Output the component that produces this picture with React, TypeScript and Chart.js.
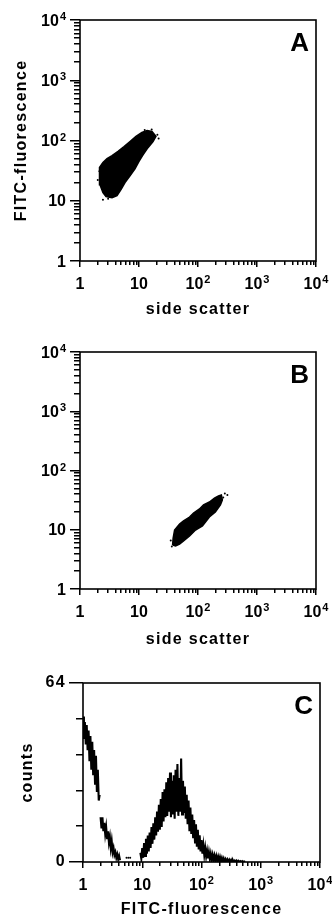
import React, { useEffect, useRef } from 'react';
import { Chart, registerables } from 'chart.js';

Chart.register(...registerables);

// ---------- DATA ----------
// Panel A: outline of the cell cloud (side scatter vs FITC-fluorescence)
const aOutlineX = [2.18, 2.10, 2.18, 2.45, 2.87, 3.49, 4.41, 5.57, 7.04, 8.89, 11.2, 13.7, 16.6, 19.4, 17.3, 14.2, 11.7, 10.0, 8.55, 7.04, 5.79, 4.95, 4.24, 3.49, 2.76, 2.45];
const aOutlineY = [18.5, 27, 35.5, 43, 50, 56, 66, 79, 96, 117, 136, 147, 141, 117, 96, 76, 58, 45, 34, 26, 20, 15.3, 12.1, 11.2, 11.7, 13.6];
// Panel A: stray events around the cloud
const aDotsX = [2.13, 2.45, 2.0, 3.0, 20.5, 16.4, 12.5, 21.5];
const aDotsY = [31, 10.4, 22, 10.8, 125, 152, 150, 108];

// Panel B: outline of the cell cloud
const bOutlineX = [37.1, 37.9, 40.1, 48.7, 56.9, 71.9, 84.0, 106, 124, 156, 190, 222, 249, 259, 240, 197, 156, 119, 90.8, 71.9, 56.9, 48.7, 41.7];
const bOutlineY = [5.53, 7.26, 9.9, 12.5, 14.1, 16.4, 19.2, 22.4, 26.2, 29.4, 34.3, 37.1, 38.6, 31.8, 26.2, 19.9, 16.4, 11.6, 9.9, 7.85, 6.46, 5.75, 5.32];
const bDotsX = [315, 285, 36, 268, 34.5];
const bDotsY = [38.6, 41, 5.2, 35, 6.6];

// Panel C: histogram, counts per channel (64 channels per decade, channel 0 = 1)
const CHANNELS_PER_DECADE = 64;
const histStart1 = 0;
const histCounts1 = [52, 44, 50, 42, 49, 40, 47, 36, 45, 33, 43, 31, 40, 28, 38, 25, 33, 22, 24];
const histStart2 = 19;
const histCounts2 = [16, 12, 16, 11, 14, 10, 12.5, 8.5, 11, 7, 9, 5, 7.5, 3.5, 5, 2.5, 3.5, 1.5, 2.7, 1, 2.2, 0.6];
const histDotChannels = [47, 49, 51];
const histDotCounts = [1.5, 1.5, 1.5];
const histStart3 = 62;
const histCounts3 = [
  3.3, 1.2, 5, 1.5, 6.8, 2.2, 8.3, 3, 9.5, 3.8, 10.5, 5, 12.5, 6.5, 13.8, 8, 16, 9.5, 18, 10.8,
  20.5, 11.5, 22.5, 12.5, 25, 14.5, 26, 16, 28.5, 16.5, 30, 18, 32, 16, 29, 17, 31, 15.5, 33, 18,
  35, 16.5, 30, 18, 37, 17, 29, 17.5, 27, 15.5, 24, 13.5, 22, 11, 19.5, 10, 17, 8.5, 15, 7,
  13.5, 5.5, 11.5, 4.5, 9.5, 3.8, 7.8, 3, 6, 2.5, 5, 2, 4, 1.3, 3.5, 1.1, 3, 0.9, 2.6, 0.7,
  2.3, 0.6, 2.1, 0.5, 1.9, 0.4, 1.8, 0.4, 1.5, 0.3, 1.3, 0.2, 1, 0.1, 0.9, 0.1, 0.8, 0, 0.7, 0,
  0.6, 0, 0.5, 0, 0.5, 0, 0.4, 0, 0.3, 0, 0.3, 0, 0.2, 0,
];

// Tick labels
const decadeValues = [1, 10, 100, 1000, 10000];
const decadeBases = ['1', '10', '10', '10', '10'];
const decadeExponents = ['', '', '2', '3', '4'];
const minorMultipliers = [1, 2, 3, 4, 5, 6, 7, 8, 9];
const countTickValues = [0, 12.8, 25.6, 38.4, 51.2, 64];
const countTickLabels = ['0', '', '', '', '', '64'];

// ---------- HELPERS ----------
const FONT = '"Liberation Sans", Arial, Helvetica, sans-serif';
const TITLE_SPACING = '1.3px';
const logTicks = decadeValues.slice(0, 4).flatMap((d) => minorMultipliers.map((m) => m * d)).concat([10000]);

const isDecade = (v: number) => decadeValues.some((d) => Math.abs(d - v) < d * 1e-9);
const countIndex = (v: number) => countTickValues.findIndex((c) => Math.abs(c - v) < 1e-6);
const zip = (xs: number[], ys: number[], close = false) => {
  const pts = xs.map((x, i) => ({ x, y: ys[i] }));
  if (close) pts.push({ x: xs[0], y: ys[0] });
  return pts;
};
const channelSeries = (start: number, counts: number[]) => counts.map((y, i) => ({ x: start + i, y }));

const tickFont = { family: FONT, size: 16, weight: 'bold' as const };
const titleFont = { family: FONT, size: 16, weight: 'bold' as const };

function logAxis(position: 'bottom' | 'left', size: number, tl: number, minorDash: number[], title: any) {
  const horizontal = position === 'bottom';
  return {
    type: 'logarithmic',
    position,
    min: 1,
    max: 10000,
    afterBuildTicks: (s: any) => {
      s.ticks = logTicks.map((v) => ({ value: v }));
    },
    afterFit: (s: any) => {
      if (horizontal) s.height = size;
      else s.width = size;
    },
    grid: {
      display: true,
      drawOnChartArea: false,
      drawTicks: true,
      tickLength: tl,
      tickColor: '#000',
      tickWidth: 1.5,
      lineWidth: 1.5,
      tickBorderDash: (ctx: any) => (ctx.tick && isDecade(ctx.tick.value) ? [] : minorDash),
    },
    border: { display: false },
    ticks: {
      autoSkip: false,
      maxRotation: 0,
      padding: 0,
      color: '#000',
      font: tickFont,
      callback: () => '',
    },
    title,
  };
}

// Draws the decade labels (1, 10, 10², 10³, 10⁴) with real raised exponents
function drawDecadeLabels(chart: any, scaleId: string, horizontal: boolean, offset: number) {
  const scale = chart.scales[scaleId];
  const ctx = chart.ctx;
  ctx.save();
  ctx.fillStyle = '#000';
  ctx.textAlign = 'left';
  ctx.textBaseline = 'alphabetic';
  decadeValues.forEach((v, i) => {
    const p = scale.getPixelForValue(v);
    const base = decadeBases[i];
    const exp = decadeExponents[i];
    ctx.letterSpacing = '0px';
    ctx.font = `bold 16px ${FONT}`;
    const bw = ctx.measureText(base).width;
    ctx.font = `bold 11px ${FONT}`;
    const ew = exp ? ctx.measureText(exp).width + 1 : 0;
    const total = bw + ew;
    let x0: number;
    let yb: number;
    if (horizontal) {
      x0 = p - total / 2;
      yb = scale.top + offset;
    } else {
      x0 = scale.right - offset - total;
      yb = p + 5.7;
    }
    ctx.font = `bold 16px ${FONT}`;
    ctx.fillText(base, x0, yb);
    if (exp) {
      ctx.font = `bold 11px ${FONT}`;
      ctx.fillText(exp, x0 + bw + 1, yb - 5.5);
    }
  });
  ctx.restore();
}

function framePlugin(letter: string, labelAxes: { id: string; horizontal: boolean; offset: number }[]) {
  return {
    id: 'frame' + letter,
    beforeDraw(chart: any) {
      chart.ctx.letterSpacing = TITLE_SPACING;
    },
    afterDatasetsDraw(chart: any) {
      const { ctx, chartArea: a } = chart;
      ctx.save();
      ctx.letterSpacing = '0px';
      ctx.strokeStyle = '#000';
      ctx.lineWidth = 1.6;
      ctx.strokeRect(a.left, a.top, a.right - a.left, a.bottom - a.top);
      ctx.font = `bold 26px ${FONT}`;
      ctx.fillStyle = '#000';
      ctx.textAlign = 'right';
      ctx.textBaseline = 'alphabetic';
      ctx.fillText(letter, a.right - 7, a.top + 31);
      ctx.restore();
    },
    afterDraw(chart: any) {
      labelAxes.forEach((ax) => drawDecadeLabels(chart, ax.id, ax.horizontal, ax.offset));
      chart.ctx.letterSpacing = TITLE_SPACING;
    },
  };
}

function scatterConfig(letter: string, outlineX: number[], outlineY: number[], dotsX: number[], dotsY: number[], padTop: number, xHeight: number, yTitle: boolean) {
  return {
    type: 'scatter',
    data: {
      datasets: [
        {
          type: 'line',
          data: zip(outlineX, outlineY, true),
          fill: 'shape',
          backgroundColor: '#000',
          borderColor: '#000',
          borderWidth: 1.5,
          pointRadius: 0,
          tension: 0,
        },
        {
          data: zip(dotsX, dotsY),
          pointRadius: 1,
          backgroundColor: '#000',
          borderWidth: 0,
        },
      ],
    },
    options: {
      animation: false,
      responsive: false,
      events: [],
      layout: { padding: { top: padTop, right: 16, left: 0, bottom: 0 } },
      plugins: { legend: { display: false }, tooltip: { enabled: false } },
      scales: {
        x: logAxis('bottom', xHeight, 6, [4, 100], {
          display: true,
          text: 'side scatter',
          color: '#000',
          font: titleFont,
          padding: { top: 0, bottom: 10.4 },
        }),
        y: logAxis('left', 80, 10, [0, 4, 6, 100], {
          display: yTitle,
          text: 'FITC-fluorescence',
          color: '#000',
          font: titleFont,
          padding: { top: 12.4, bottom: 0 },
        }),
      },
    },
    plugins: [
      framePlugin(letter, [
        { id: 'x', horizontal: true, offset: 27.7 },
        { id: 'y', horizontal: false, offset: 14 },
      ]),
    ],
  };
}

function histConfig() {
  const lineDs = (pts: any[]) => ({
    type: 'line',
    xAxisID: 'ch',
    yAxisID: 'y',
    data: pts,
    borderColor: '#000',
    borderWidth: 2.1,
    pointRadius: 0,
    fill: false,
    tension: 0,
  });
  return {
    type: 'scatter',
    data: {
      datasets: [
        lineDs(channelSeries(histStart1, histCounts1)),
        lineDs(channelSeries(histStart2, histCounts2)),
        lineDs(channelSeries(histStart3, histCounts3)),
        {
          xAxisID: 'ch',
          yAxisID: 'y',
          data: zip(histDotChannels, histDotCounts),
          pointRadius: 1,
          backgroundColor: '#000',
          borderWidth: 0,
        },
      ],
    },
    options: {
      animation: false,
      responsive: false,
      events: [],
      layout: { padding: { top: 23, right: 12, left: 0, bottom: 0 } },
      plugins: { legend: { display: false }, tooltip: { enabled: false } },
      scales: {
        x: logAxis('bottom', 57, 6, [4, 100], {
          display: true,
          text: 'FITC-fluorescence',
          color: '#000',
          font: titleFont,
          padding: { top: 0, bottom: 0 },
        }),
        ch: {
          type: 'linear',
          position: 'bottom',
          display: false,
          min: 0,
          max: 4 * CHANNELS_PER_DECADE,
        },
        y: {
          type: 'linear',
          position: 'left',
          min: 0,
          max: 64,
          afterBuildTicks: (s: any) => {
            s.ticks = countTickValues.map((v) => ({ value: v }));
          },
          afterFit: (s: any) => {
            s.width = 83;
          },
          grid: {
            display: true,
            drawOnChartArea: false,
            drawTicks: true,
            tickLength: 14,
            tickColor: '#000',
            tickWidth: 1.5,
            lineWidth: 1.5,
            tickBorderDash: (ctx: any) => {
              if (!ctx.tick) return [];
              const i = countIndex(ctx.tick.value);
              return i >= 0 && countTickLabels[i] !== '' ? [] : [0, 7, 7, 100];
            },
          },
          border: { display: false },
          ticks: {
            autoSkip: false,
            padding: 3,
            color: '#000',
            font: tickFont,
            callback: (v: any) => {
              const i = countIndex(Number(v));
              return i >= 0 ? countTickLabels[i] : '';
            },
          },
          title: {
            display: true,
            text: 'counts',
            color: '#000',
            font: titleFont,
            padding: { top: 18.4, bottom: 0 },
          },
        },
      },
    },
    plugins: [framePlugin('C', [{ id: 'x', horizontal: true, offset: 27.7 }])],
  };
}

function Panel({ top, height, make }: { top: number; height: number; make: () => any }) {
  const ref = useRef<HTMLCanvasElement>(null);
  useEffect(() => {
    const chart = new Chart(ref.current as HTMLCanvasElement, make());
    return () => chart.destroy();
  }, []);
  return (
    <div style={{ position: 'absolute', left: 0, top, width: 332, height }}>
      <canvas ref={ref} width={332} height={height} style={{ display: 'block', width: 332, height }} />
    </div>
  );
}

export default function App() {
  const makeA = () => scatterConfig('A', aOutlineX, aOutlineY, aDotsX, aDotsY, 20, 69, true);
  const makeB = () => scatterConfig('B', bOutlineX, bOutlineY, bDotsX, bDotsY, 22, 71, false);
  return (
    <div style={{ position: 'absolute', left: 0, top: 0, width: 332, height: 919, overflow: 'hidden', background: '#fff' }}>
      <Panel top={0} height={330} make={makeA} />
      <Panel top={330} height={330} make={makeB} />
      <Panel top={660} height={259} make={histConfig} />
    </div>
  );
}
